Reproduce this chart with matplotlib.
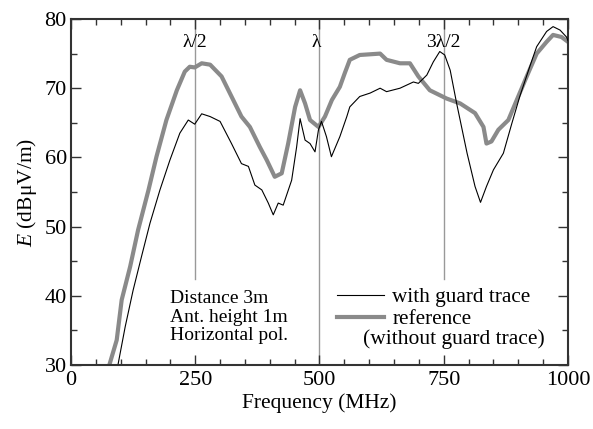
import numpy as np
import matplotlib.pyplot as plt

plt.rcParams['font.family'] = ['Liberation Serif', 'DejaVu Serif']
plt.rcParams['mathtext.fontset'] = 'custom'
plt.rcParams['mathtext.it'] = 'Liberation Serif:italic'
plt.rcParams['mathtext.rm'] = 'Liberation Serif'

# with guard trace (black)
f_guard = [95, 109, 125, 142, 159, 179, 199, 219, 236, 249, 263, 280, 300, 323,
           343, 357, 370, 384, 397, 407, 417, 427, 444, 454, 461, 471, 481, 491,
           498, 504, 514, 524, 541, 555, 561, 581, 602, 622, 635, 662, 689, 699,
           716, 729, 742, 752, 763, 776, 797, 813, 824, 836, 850, 870, 887, 903,
           923, 937, 957, 970, 984, 997, 1000]
e_guard = [30.2, 35.5, 40.8, 45.7, 50.5, 55.3, 59.6, 63.5, 65.4, 64.8, 66.3,
           65.9, 65.2, 62.0, 59.1, 58.7, 56.0, 55.3, 53.4, 51.7, 53.4, 53.1,
           56.7, 61.5, 65.6, 62.5, 62.0, 60.8, 64.0, 65.2, 63.0, 60.1, 63.0,
           65.9, 67.3, 68.8, 69.3, 70.0, 69.5, 70.0, 70.9, 70.7, 71.9, 73.8,
           75.3, 74.8, 72.6, 67.8, 60.6, 55.8, 53.5, 55.8, 58.2, 60.6, 64.9,
           68.8, 73.1, 76.0, 78.2, 78.9, 78.4, 77.4, 76.9]

# reference, without guard trace (gray)
f_ref = [78, 92, 102, 119, 135, 156, 172, 192, 213, 229, 239, 249, 263, 280,
         303, 323, 343, 360, 380, 394, 410, 424, 437, 451, 461, 471, 481, 498,
         511, 525, 541, 551, 561, 581, 622, 635, 662, 682, 699, 722, 756, 783,
         813, 830, 836, 846, 860, 880, 897, 917, 937, 957, 970, 987, 1000]
e_ref = [30.2, 33.6, 39.4, 44.2, 49.5, 55.3, 60.1, 65.4, 69.7, 72.4, 73.1,
         73.0, 73.6, 73.4, 71.7, 68.8, 65.9, 64.4, 61.5, 59.6, 57.2, 57.7,
         62.0, 67.3, 69.7, 67.8, 65.4, 64.4, 65.9, 68.3, 70.2, 72.2, 74.1,
         74.8, 75.0, 74.1, 73.6, 73.6, 71.7, 69.7, 68.5, 67.8, 66.4, 64.4,
         62.0, 62.3, 64.0, 65.4, 68.3, 71.7, 75.0, 76.7, 77.7, 77.4, 76.7]

# wavelength markers
marker_f = [250, 500, 750]
marker_bottom = [42.4, 30, 42.4]
marker_text = ['λ/2', 'λ', '3λ/2']
marker_text_f = [250, 494, 750]

fig = plt.figure(figsize=(5.93, 4.29), dpi=100)
ax = fig.add_axes([0.1197, 0.1492, 0.8381, 0.8065])

for fm, yb in zip(marker_f, marker_bottom):
    ax.plot([fm, fm], [yb, 80], color='#999999', lw=1.0, zorder=1)
for tx, lab in zip(marker_text_f, marker_text):
    ax.text(tx, 76.6, lab, ha='center', va='center', fontsize=14)

ax.plot(f_guard, e_guard, color='black', lw=0.8, label='with guard trace', zorder=3)
ax.plot(f_ref, e_ref, color='#8a8a8a', lw=3.0, label='reference', zorder=2)

ax.set_xlim(0, 1000)
ax.set_ylim(30, 80)
ax.set_xticks([0, 250, 500, 750, 1000])
ax.set_xticks(np.arange(0, 1001, 50), minor=True)
ax.set_yticks([30, 40, 50, 60, 70, 80])
ax.set_yticks(np.arange(30, 81, 5), minor=True)
ax.tick_params(which='both', direction='in', top=True, right=True,
               labelsize=16, color='#333333')
ax.tick_params(axis='x', pad=4)
ax.tick_params(axis='y', pad=3)
ax.tick_params(which='major', length=7, width=1)
ax.tick_params(which='minor', length=4, width=1)
for s in ax.spines.values():
    s.set_linewidth(1.5)
    s.set_color('#333333')

ax.set_xlabel('Frequency (MHz)', fontsize=15.5, labelpad=3)
ax.set_ylabel('$E$ (dBμV/m)', fontsize=15.5, labelpad=4)

ax.text(199, 40.9, 'Distance 3m\nAnt. height 1m\nHorizontal pol.',
        ha='left', va='top', fontsize=14, linespacing=1.15)

leg = ax.legend(loc='upper left', bbox_to_anchor=(0.535, 0.225), frameon=False,
                fontsize=15.3, handlelength=2.2, handletextpad=0.4,
                labelspacing=0.1, borderaxespad=0, borderpad=0)
ax.text(587, 33.8, '(without guard trace)', ha='left', va='center', fontsize=15.5)

fig.savefig('out.png', dpi=100)
